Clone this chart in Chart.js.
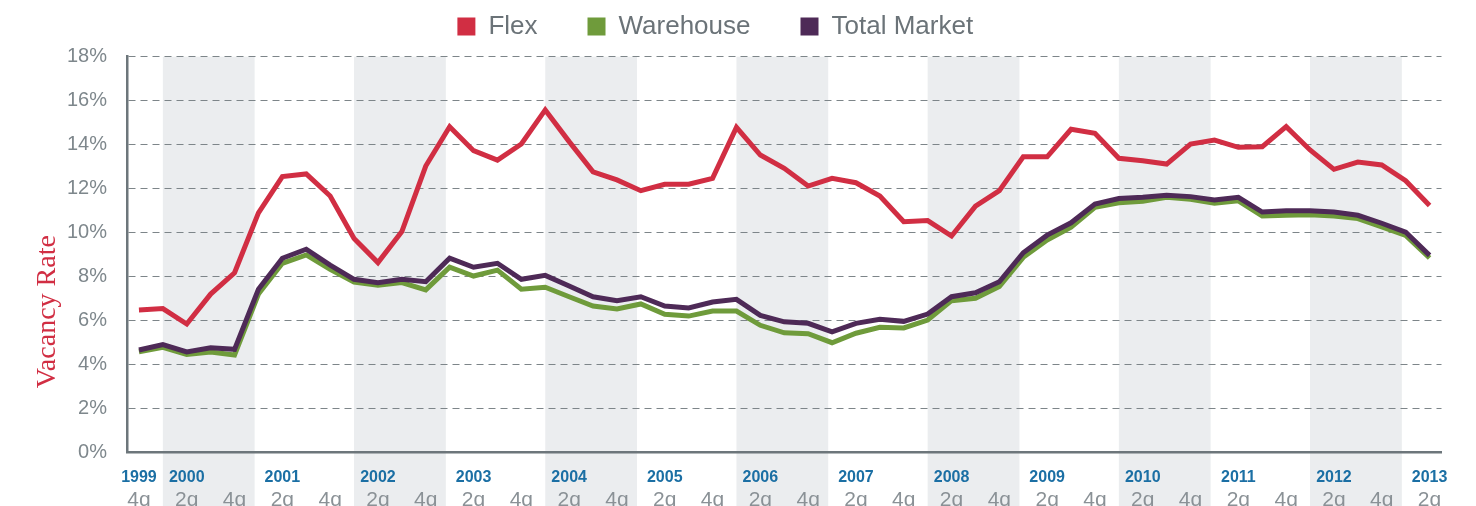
<!DOCTYPE html>
<html>
<head>
<meta charset="utf-8">
<title>Vacancy Rate</title>
<script src="https://cdn.jsdelivr.net/npm/chart.js@4.4.1/dist/chart.umd.min.js"></script>
<style>
  html, body { margin: 0; padding: 0; background: #fff; }
</style>
</head>
<body>
<canvas id="myChart" width="1476" height="506"></canvas>
<script>
// quarters, 1999 Q4 .. 2013 Q2
const quarterLabels = [
  '1999 Q4',
  '2000 Q1', '2000 Q2', '2000 Q3', '2000 Q4',
  '2001 Q1', '2001 Q2', '2001 Q3', '2001 Q4',
  '2002 Q1', '2002 Q2', '2002 Q3', '2002 Q4',
  '2003 Q1', '2003 Q2', '2003 Q3', '2003 Q4',
  '2004 Q1', '2004 Q2', '2004 Q3', '2004 Q4',
  '2005 Q1', '2005 Q2', '2005 Q3', '2005 Q4',
  '2006 Q1', '2006 Q2', '2006 Q3', '2006 Q4',
  '2007 Q1', '2007 Q2', '2007 Q3', '2007 Q4',
  '2008 Q1', '2008 Q2', '2008 Q3', '2008 Q4',
  '2009 Q1', '2009 Q2', '2009 Q3', '2009 Q4',
  '2010 Q1', '2010 Q2', '2010 Q3', '2010 Q4',
  '2011 Q1', '2011 Q2', '2011 Q3', '2011 Q4',
  '2012 Q1', '2012 Q2', '2012 Q3', '2012 Q4',
  '2013 Q1', '2013 Q2'
];
const flexData = [
  6.49,
  6.55, 5.85, 7.21, 8.18,
  10.9, 12.55, 12.67, 11.67,
  9.74, 8.64, 10.05, 13.03,
  14.82, 13.73, 13.30, 14.03,
  15.58, 14.14, 12.77, 12.40,
  11.91, 12.2, 12.2, 12.47,
  14.79, 13.53, 12.93, 12.12,
  12.47, 12.27, 11.67, 10.5,
  10.55, 9.85, 11.21, 11.91,
  13.45, 13.45, 14.7, 14.52,
  13.38, 13.27, 13.12, 14.03,
  14.21, 13.88, 13.91, 14.82,
  13.76, 12.88, 13.21, 13.08,
  12.36, 11.24
];
const warehouseData = [
  4.59,
  4.79, 4.47, 4.58, 4.44,
  7.21, 8.61, 8.99, 8.34,
  7.76, 7.61, 7.73, 7.40,
  8.43, 8.03, 8.30, 7.43,
  7.52, 7.09, 6.67, 6.53,
  6.76, 6.29, 6.21, 6.44,
  6.44, 5.79, 5.45, 5.41,
  5.0, 5.43, 5.70, 5.67,
  6.03, 6.91, 7.02, 7.55,
  8.88, 9.67, 10.25, 11.15,
  11.36, 11.43, 11.61, 11.52,
  11.34, 11.45, 10.76, 10.79,
  10.82, 10.76, 10.64, 10.27,
  9.88, 8.85
];
const totalData = [
  4.67,
  4.91, 4.58, 4.77, 4.70,
  7.43, 8.84, 9.25, 8.53,
  7.88, 7.73, 7.88, 7.77,
  8.84, 8.43, 8.61, 7.88,
  8.06, 7.58, 7.09, 6.91,
  7.09, 6.67, 6.58, 6.85,
  6.97, 6.24, 5.95, 5.88,
  5.49, 5.88, 6.06, 5.97,
  6.30, 7.09, 7.27, 7.77,
  9.09, 9.89, 10.45, 11.30,
  11.55, 11.61, 11.70, 11.64,
  11.49, 11.61, 10.94, 11.0,
  11.0, 10.94, 10.79, 10.43,
  10.03, 8.97
];
const shadedYears = ['2000', '2002', '2004', '2006', '2008', '2010', '2012'];
const quarterTickText = { Q2: '2q', Q4: '4q' };
const yTicks = [0, 2, 4, 6, 8, 10, 12, 14, 16, 18];

const RED = '#d12e43', GREEN = '#6f9b3b', PURPLE = '#4e2a57';
const AXIS = '#6d767b';

Chart.defaults.font.family = "'Liberation Sans', Arial, sans-serif";

// grey band behind every other year, also runs down through the labels
const bandPlugin = {
  id: 'bands',
  beforeDraw(chart) {
    const {ctx, chartArea} = chart;
    const x = chart.scales.x;
    ctx.save();
    ctx.fillStyle = '#ebedef';
    shadedYears.forEach(yr => {
      const i = quarterLabels.indexOf(yr + ' Q1');
      const left = x.getPixelForValue(i);
      const right = x.getPixelForValue(i + 3.84);
      ctx.fillRect(left, chartArea.top, right - left, chart.height - chartArea.top);
    });
    ctx.restore();
  }
};

// axis title sits lower than the middle of the axis
const yTitlePlugin = {
  id: 'yTitle',
  afterDraw(chart) {
    const {ctx, chartArea} = chart;
    ctx.save();
    ctx.translate(55, chartArea.bottom - 141);
    ctx.rotate(-Math.PI / 2);
    ctx.font = "28px 'Liberation Serif', 'Times New Roman', serif";
    ctx.fillStyle = RED;
    ctx.textAlign = 'center';
    ctx.textBaseline = 'alphabetic';
    ctx.fillText('Vacancy Rate', 0, 0);
    ctx.restore();
  }
};

function lineSet(label, data, color, order) {
  return {
    label: label,
    data: data,
    borderColor: color,
    backgroundColor: color,
    borderWidth: 5,
    pointRadius: 0,
    pointHoverRadius: 0,
    tension: 0,
    fill: false,
    order: order
  };
}

new Chart(document.querySelector('#myChart'), {
  type: 'line',
  data: {
    labels: quarterLabels,
    datasets: [
      lineSet('Flex', flexData, RED, 0),
      lineSet('Warehouse', warehouseData, GREEN, 1),
      lineSet('Total Market', totalData, PURPLE, -1)
    ]
  },
  plugins: [bandPlugin, yTitlePlugin],
  options: {
    responsive: false,
    animation: false,
    events: [],
    layout: { padding: { top: -36.5, right: 34.5, bottom: -8.3, left: -11 } },
    plugins: {
      tooltip: { enabled: false },
      legend: {
        position: 'top',
        labels: {
          boxWidth: 18,
          boxHeight: 18,
          padding: 50,
          color: '#6b7378',
          font: { size: 26 },
          sort: (a, b) => a.datasetIndex - b.datasetIndex,
          generateLabels(chart) {
            return Chart.defaults.plugins.legend.labels.generateLabels(chart)
              .map(item => Object.assign(item, { lineWidth: 0 }));
          }
        }
      },
      // spacer between legend and plot
      subtitle: {
        display: true,
        text: '',
        position: 'top',
        weight: 900,
        padding: 0,
        font: { size: 7.2, lineHeight: 1 }
      }
    },
    scales: {
      x: {
        type: 'category',
        offset: true,
        afterFit(scale) { scale.height = 34.4; },
        grid: { display: false, drawTicks: false },
        border: { display: true, color: AXIS, width: 2.5 },
        ticks: {
          autoSkip: false,
          maxRotation: 0,
          padding: 15.2,
          color: '#1b6fa4',
          font: { size: 16, weight: 'bold' },
          callback: function(value, index) {
            const [yr, q] = this.getLabelForValue(value).split(' ');
            return (index === 0 || q === 'Q2') ? yr : '';
          }
        }
      },
      xq: {
        type: 'category',
        position: 'bottom',
        offset: true,
        weight: 1,
        afterFit(scale) { scale.height = 27.2; },
        grid: { display: false, drawTicks: false },
        border: { display: false },
        ticks: {
          autoSkip: false,
          maxRotation: 0,
          padding: 1,
          color: '#8a9196',
          font: { size: 21 },
          callback: function(value) {
            const q = this.getLabelForValue(value).split(' ')[1];
            return quarterTickText[q] || '';
          }
        }
      },
      y: {
        min: 0,
        max: 18,
        afterFit(scale) { scale.width = 138; },
        afterBuildTicks(scale) { scale.ticks = yTicks.map(v => ({ value: v })); },
        grid: { color: '#7d8589', lineWidth: 1, drawTicks: false },
        border: { display: true, color: AXIS, width: 2.5, dash: [7, 5] },
        ticks: {
          padding: 20,
          color: '#7e878c',
          font: { size: 20 },
          callback: v => v + '%'
        }
      }
    }
  }
});
</script>
</body>
</html>
